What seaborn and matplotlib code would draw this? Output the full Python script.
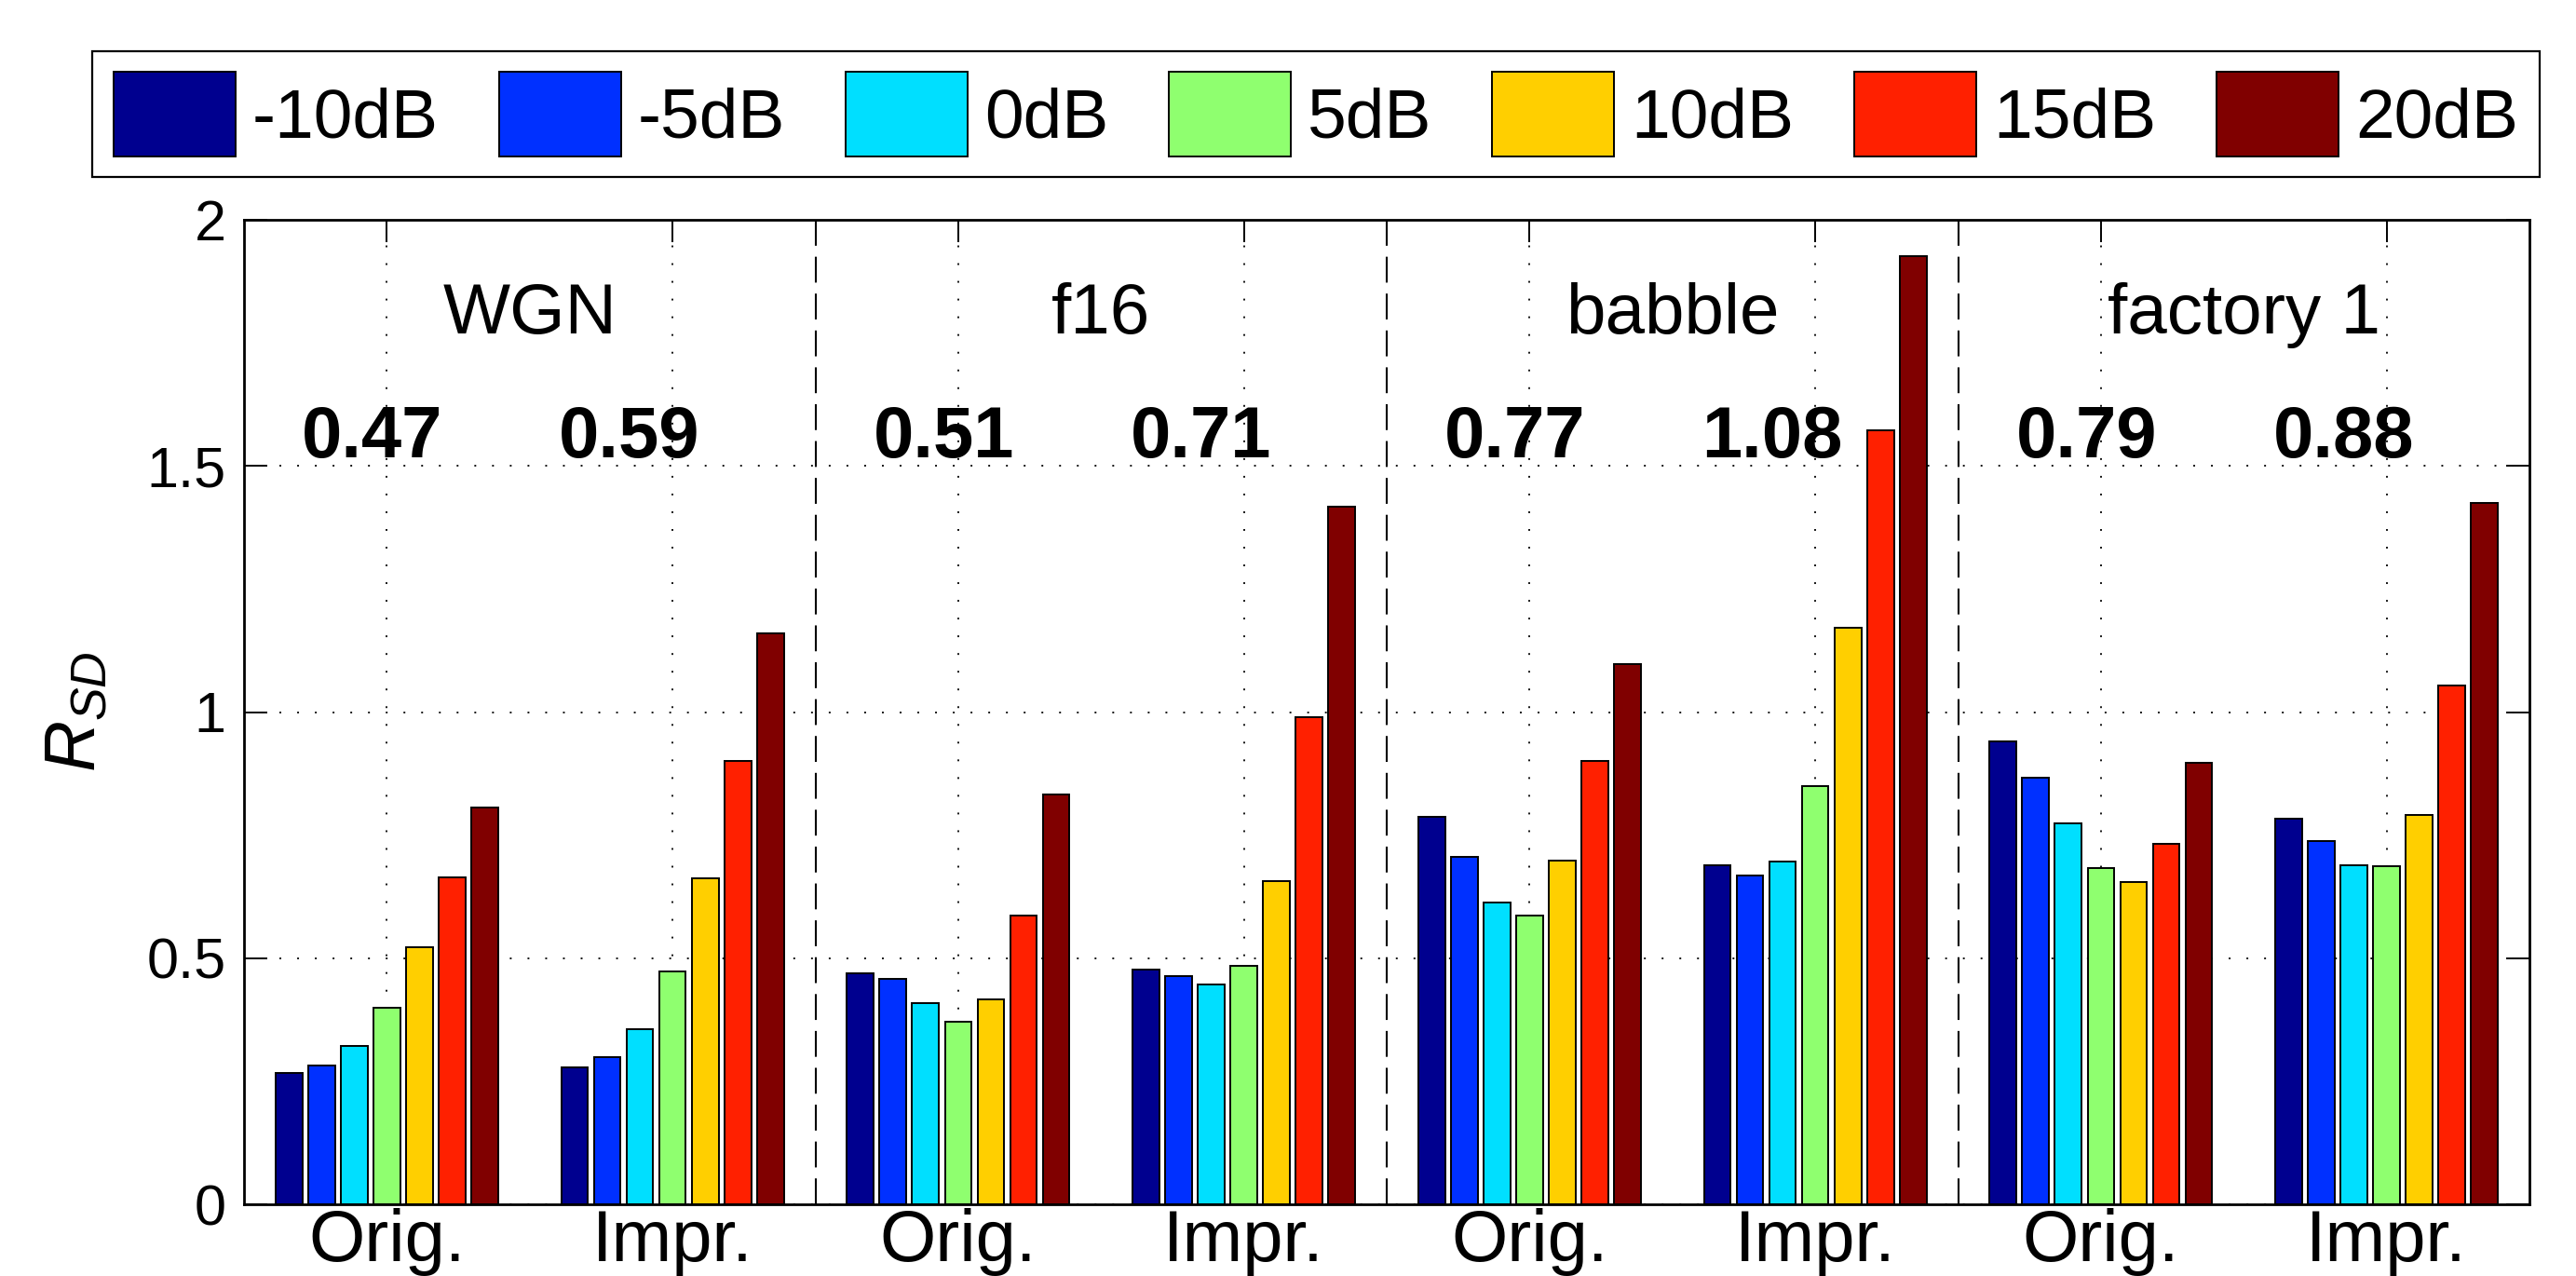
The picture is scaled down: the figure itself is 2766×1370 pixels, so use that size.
import matplotlib
matplotlib.use("Agg")
import matplotlib.pyplot as plt
import matplotlib.patches as mpatches
import seaborn as sns
import pandas as pd

# ---------------- data ----------------
noise_types = ["WGN", "f16", "babble", "factory 1"]
methods = ["Orig.", "Impr."]
snr_labels = ["-10dB", "-5dB", "0dB", "5dB", "10dB", "15dB", "20dB"]
snr_colors = ["#00008F", "#0030FF", "#00DFFF", "#8FFF6F", "#FFCF00", "#FF2000", "#800000"]

wgn_orig = [0.266, 0.282, 0.321, 0.400, 0.523, 0.665, 0.806]
wgn_impr = [0.278, 0.299, 0.355, 0.473, 0.662, 0.900, 1.160]
f16_orig = [0.470, 0.458, 0.408, 0.370, 0.417, 0.586, 0.832]
f16_impr = [0.477, 0.463, 0.446, 0.484, 0.657, 0.989, 1.417]
babble_orig = [0.788, 0.706, 0.614, 0.586, 0.698, 0.901, 1.097]
babble_impr = [0.689, 0.668, 0.696, 0.849, 1.171, 1.573, 1.927]
factory_orig = [0.941, 0.867, 0.774, 0.684, 0.654, 0.732, 0.897]
factory_impr = [0.784, 0.737, 0.689, 0.686, 0.791, 1.054, 1.425]

avg_labels = ["0.47", "0.59", "0.51", "0.71", "0.77", "1.08", "0.79", "0.88"]
avg_x_offsets = [-0.05, -0.15, -0.05, -0.15, -0.05, -0.15, -0.05, -0.15]

ytick_values = [0, 0.5, 1, 1.5, 2]
ytick_labels = ["0", "0.5", "1", "1.5", "2"]

series = [wgn_orig, wgn_impr, f16_orig, f16_impr,
          babble_orig, babble_impr, factory_orig, factory_impr]

# long-form table
cats, rows = [], []
i = 0
for n in noise_types:
    for m in methods:
        cat = f"{n} {m}"
        cats.append(cat)
        for s, v in zip(snr_labels, series[i]):
            rows.append({"group": cat, "snr": s, "value": v})
        i += 1
df = pd.DataFrame(rows)
xtick_labels = [m for n in noise_types for m in methods]

# ---------------- style ----------------
plt.rcParams["font.family"] = ["Liberation Sans", "DejaVu Sans"]
plt.rcParams["mathtext.fontset"] = "custom"
plt.rcParams["mathtext.rm"] = "Liberation Sans"
plt.rcParams["mathtext.it"] = "Liberation Sans:italic"
plt.rcParams["lines.scale_dashes"] = False

fig = plt.figure(figsize=(27.66, 13.70), dpi=100)
ax = fig.add_axes([262 / 2766, 77 / 1370, (2716 - 262) / 2766, (1293 - 236) / 1370])

sns.barplot(data=df, x="group", y="value", hue="snr", order=cats,
            hue_order=snr_labels, palette=snr_colors, width=0.8, gap=0.18,
            edgecolor="black", linewidth=1.4, saturation=1, errorbar=None,
            legend=False, ax=ax)

ax.set_xlim(-0.5, len(cats) - 0.5)
ax.set_ylim(0, 2)
ax.set_yticks(ytick_values)
ax.set_yticklabels(ytick_labels)
ax.set_xticks(range(len(cats)))
ax.set_xticklabels(xtick_labels)
ax.set_xlabel("")

ax.tick_params(axis="y", direction="in", length=18, width=1.4, labelsize=44,
               pad=14, left=True, right=True)
ax.tick_params(axis="x", direction="in", length=17, width=1.4, labelsize=56,
               pad=3, top=True, bottom=True)
for sp in ax.spines.values():
    sp.set_visible(True)
    sp.set_linewidth(2.0)
    sp.set_color("black")

ax.set_axisbelow(True)
ax.grid(True, axis="both", color="black", linewidth=1.3,
        linestyle=(0, (1.4, 12.3)))
ax.set_facecolor("white")

# separators
for xs in [1.5, 3.5, 5.5]:
    ax.axvline(xs, color="black", linewidth=1.5, linestyle=(0, (20, 8.5)), zorder=3)

# noise titles
for k, n in enumerate(noise_types):
    ax.text(2 * k + 0.5, 1.769, n, ha="center", va="baseline", fontsize=55)

# average labels
for k, (lab, off) in enumerate(zip(avg_labels, avg_x_offsets)):
    ax.text(k + off, 1.517, lab, ha="center", va="baseline", fontsize=56,
            fontweight="bold")

ax.set_ylabel(r"$R_{SD}$", fontsize=55, va="center", ha="center")
ax.yaxis.set_label_coords((83 - 262) / 2454, 0.5)

# legend
handles = [mpatches.Patch(facecolor=c, edgecolor="black", linewidth=1.4) for c in snr_colors]
leg = fig.legend(handles, snr_labels, ncol=7, loc="center",
                 bbox_to_anchor=(1413 / 2766, 1 - 122.5 / 1370), fontsize=54,
                 handlelength=1.75, handleheight=1.48, handletextpad=0.24,
                 columnspacing=0.86, borderpad=0.3, frameon=True, fancybox=False,
                 edgecolor="black", framealpha=1)
leg.get_frame().set_linewidth(1.6)

fig.savefig("out.png", dpi=100, facecolor="white")
